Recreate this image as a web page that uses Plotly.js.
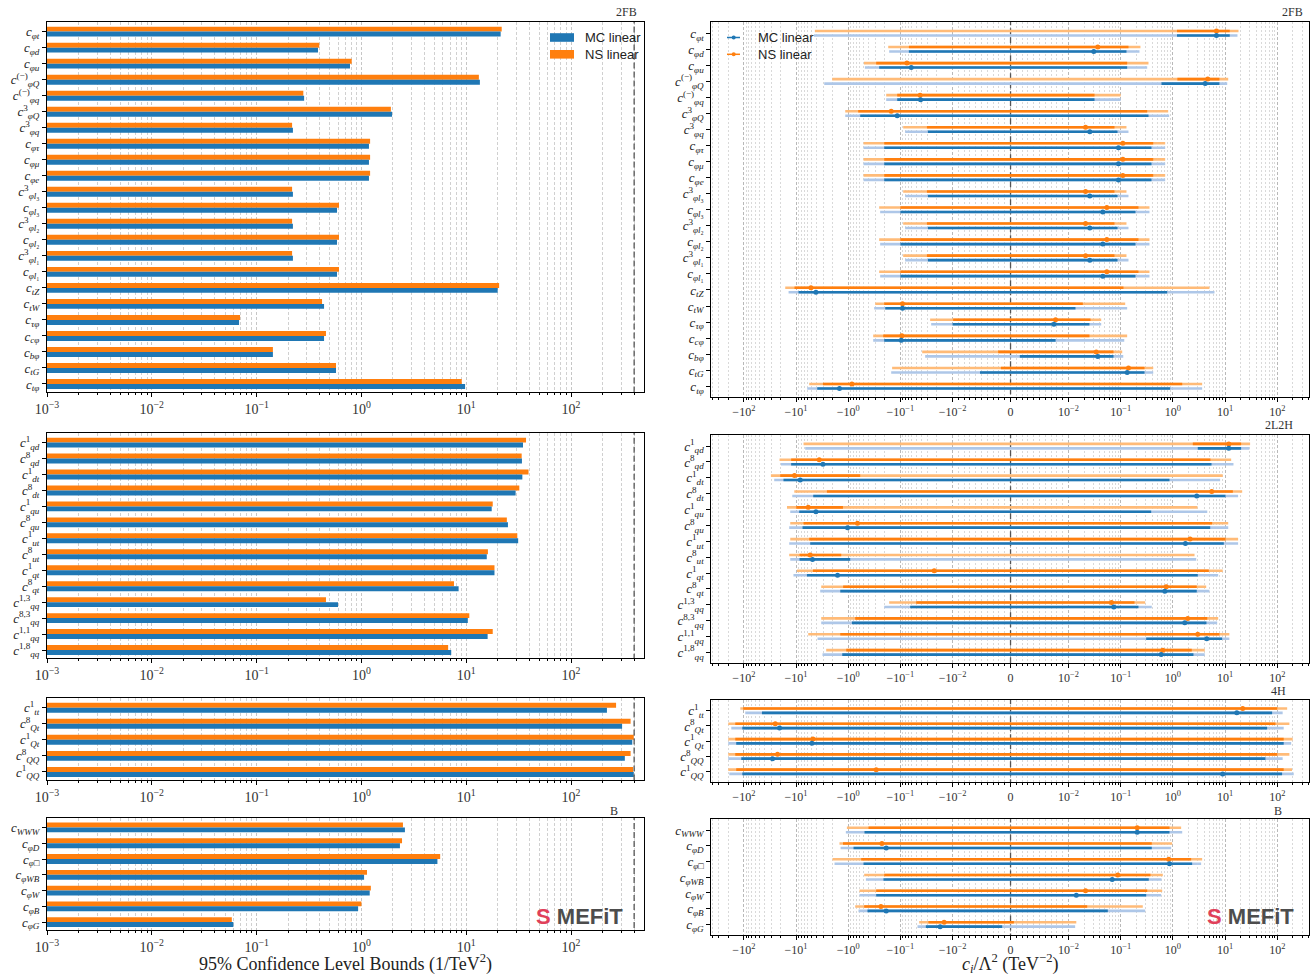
<!DOCTYPE html>
<html><head><meta charset="utf-8">
<script src="https://cdn.plot.ly/plotly-3.0.1.min.js"></script>
<style>body{margin:0;background:#fff}#plot{width:1311px;height:976px}</style>
</head><body><div id="plot"></div>
<script>
// ---------------- DATA ----------------
const series = ["MC linear", "NS linear"];

// Panel 2FB
const labels2FB = [
 "<i>c<sub>φt</sub></i>", "<i>c<sub>φd</sub></i>", "<i>c<sub>φu</sub></i>",
 "<i>c</i><sup>(−)</sup><sub><i>φQ</i></sub>", "<i>c</i><sup>(−)</sup><sub><i>φq</i></sub>",
 "<i>c</i><sup>3</sup><sub><i>φQ</i></sub>", "<i>c</i><sup>3</sup><sub><i>φq</i></sub>",
 "<i>c<sub>φτ</sub></i>", "<i>c<sub>φμ</sub></i>", "<i>c<sub>φe</sub></i>",
 "<i>c</i><sup>3</sup><sub><i>φl</i>₃</sub>", "<i>c</i><sub><i>φl</i>₃</sub>",
 "<i>c</i><sup>3</sup><sub><i>φl</i>₂</sub>", "<i>c</i><sub><i>φl</i>₂</sub>",
 "<i>c</i><sup>3</sup><sub><i>φl</i>₁</sub>", "<i>c</i><sub><i>φl</i>₁</sub>",
 "<i>c<sub>tZ</sub></i>", "<i>c<sub>tW</sub></i>", "<i>c<sub>τφ</sub></i>", "<i>c<sub>cφ</sub></i>",
 "<i>c<sub>bφ</sub></i>", "<i>c<sub>tG</sub></i>", "<i>c<sub>tφ</sub></i>"
];
// 95% CL width (left panels)
const width2FB_MC = [21.3, 0.385, 0.778, 13.5, 0.284, 1.96, 0.222, 1.18, 1.18, 1.18, 0.222, 0.585, 0.222, 0.585, 0.222, 0.585, 19.95, 0.44, 0.068, 0.44, 0.143, 0.572, 9.75];
const width2FB_NS = [21.8, 0.396, 0.808, 13.2, 0.279, 1.91, 0.218, 1.21, 1.21, 1.21, 0.218, 0.611, 0.218, 0.611, 0.218, 0.611, 20.6, 0.421, 0.0695, 0.459, 0.143, 0.572, 9.06];
// intervals: [lo95, lo68, mean, hi68, hi95]
const ci2FB_MC = [
 [-4.54, 1.2, 6.84, 12.3, 17.3], [-0.164, -0.0687, 0.0305, 0.129, 0.229], [-0.479, -0.255, -0.062, 0.133, 0.322],
 [-2.88, 0.605, 4.16, 7.8, 11.0], [-0.187, -0.115, -0.041, 0.0315, 0.1], [-1.14, -0.589, -0.115, 0.341, 0.849],
 [-0.081, -0.0297, 0.0256, 0.0869, 0.141], [-0.509, -0.204, 0.0907, 0.389, 0.712], [-0.509, -0.204, 0.0907, 0.389, 0.712],
 [-0.509, -0.204, 0.0907, 0.389, 0.712], [-0.081, -0.0297, 0.0256, 0.0869, 0.141], [-0.244, -0.1, 0.0454, 0.192, 0.356],
 [-0.081, -0.0297, 0.0256, 0.0869, 0.141], [-0.244, -0.1, 0.0454, 0.192, 0.356], [-0.081, -0.0297, 0.0256, 0.0869, 0.141],
 [-0.244, -0.1, 0.0454, 0.192, 0.356], [-13.9, -8.96, -4.16, 0.778, 6.27], [-0.318, -0.195, -0.091, 0.0136, 0.133],
 [-0.0257, -0.01, 0.00748, 0.0252, 0.0423], [-0.332, -0.204, -0.0963, 0.00777, 0.117], [-0.0335, 0.0016, 0.0364, 0.0728, 0.112],
 [-0.15, -0.00527, 0.133, 0.286, 0.42], [-6.1, -3.92, -1.47, 0.887, 3.64]
];
const ci2FB_NS = [
 [-4.36, 1.2, 6.84, 12.3, 18.1], [-0.171, -0.0687, 0.0364, 0.141, 0.239], [-0.5, -0.291, -0.075, 0.133, 0.341],
 [-2.03, 1.22, 4.66, 7.8, 11.5], [-0.187, -0.115, -0.0418, 0.0315, 0.1], [-1.14, -0.643, -0.15, 0.322, 0.813],
 [-0.0884, -0.031, 0.0212, 0.076, 0.129], [-0.509, -0.204, 0.11, 0.42, 0.712], [-0.509, -0.204, 0.11, 0.42, 0.712],
 [-0.509, -0.204, 0.11, 0.42, 0.712], [-0.0884, -0.031, 0.0212, 0.076, 0.129], [-0.255, -0.1, 0.0542, 0.219, 0.356],
 [-0.0884, -0.031, 0.0212, 0.076, 0.129], [-0.255, -0.1, 0.0542, 0.219, 0.356], [-0.0884, -0.031, 0.0212, 0.076, 0.129],
 [-0.255, -0.1, 0.0542, 0.219, 0.356], [-16.1, -10.7, -5.18, 0.113, 5.02], [-0.304, -0.204, -0.091, 0.0188, 0.122],
 [-0.0269, -0.0099, 0.00777, 0.0264, 0.0423], [-0.332, -0.213, -0.0936, 0.0252, 0.133], [-0.0382, -0.00213, 0.034, 0.0728, 0.107],
 [-0.144, -0.00166, 0.141, 0.286, 0.42], [-5.59, -3.05, -0.849, 1.51, 3.64]
];

// Panel 2L2H
const labels2L2H = [
 "<i>c</i><sup>1</sup><sub><i>qd</i></sub>", "<i>c</i><sup>8</sup><sub><i>qd</i></sub>",
 "<i>c</i><sup>1</sup><sub><i>dt</i></sub>", "<i>c</i><sup>8</sup><sub><i>dt</i></sub>",
 "<i>c</i><sup>1</sup><sub><i>qu</i></sub>", "<i>c</i><sup>8</sup><sub><i>qu</i></sub>",
 "<i>c</i><sup>1</sup><sub><i>ut</i></sub>", "<i>c</i><sup>8</sup><sub><i>ut</i></sub>",
 "<i>c</i><sup>1</sup><sub><i>qt</i></sub>", "<i>c</i><sup>8</sup><sub><i>qt</i></sub>",
 "<i>c</i><sup>1,3</sup><sub><i>qq</i></sub>", "<i>c</i><sup>8,3</sup><sub><i>qq</i></sub>",
 "<i>c</i><sup>1,1</sup><sub><i>qq</i></sub>", "<i>c</i><sup>1,8</sup><sub><i>qq</i></sub>"
];
const width2L2H_MC = [34.8, 34.0, 34.3, 29.6, 17.5, 25.0, 31.3, 15.7, 18.6, 8.46, 0.598, 10.35, 16.0, 7.19];
const width2L2H_NS = [37.2, 33.8, 39.3, 32.1, 17.9, 24.4, 30.7, 16.1, 18.6, 7.64, 0.459, 10.7, 17.9, 6.72];
const ci2L2H_MC = [
 [-6.67, 3.0, 11.8, 20.3, 29.3], [-19.5, -12.4, -3.05, 5.5, 14.5], [-26.2, -17.4, -8.3, 0.861, 8.05],
 [-11.8, -4.68, 2.87, 10.2, 17.8], [-12.9, -8.69, -4.16, 0.384, 4.56], [-13.5, -7.5, -1.03, 5.19, 11.5],
 [-13.5, -5.35, 1.74, 9.46, 17.8], [-12.9, -8.57, -4.83, -0.916, 2.8], [-11.2, -6.18, -1.6, 3.0, 7.38],
 [-3.44, -1.42, 0.701, 2.87, 5.02], [-0.204, -0.0649, 0.0738, 0.219, 0.394], [-3.29, -0.849, 1.69, 4.4, 7.06],
 [-3.87, 0.308, 4.46, 8.8, 12.1], [-3.11, -1.3, 0.596, 2.48, 4.08]
];
const ci2L2H_NS = [
 [-7.18, 2.41, 11.8, 20.3, 30.2], [-20.7, -12.4, -3.59, 5.25, 13.1], [-30.3, -20.1, -10.7, -0.589, 9.03],
 [-10.8, -2.56, 5.56, 14.1, 21.3], [-14.9, -9.9, -5.84, -1.26, 2.96], [-12.9, -7.18, -0.664, 5.66, 11.5],
 [-12.9, -5.59, 2.14, 10.2, 17.8], [-13.5, -8.57, -5.35, -1.36, 2.6], [-9.6, -4.74, -0.0225, 4.88, 9.03],
 [-3.29, -1.25, 0.745, 2.87, 4.35], [-0.164, -0.0498, 0.0667, 0.184, 0.295], [-3.29, -0.735, 1.93, 4.56, 7.38],
 [-5.84, -1.42, 3.0, 7.8, 12.1], [-2.64, -1.09, 0.64, 2.3, 4.08]
];

// Panel 4H
const labels4H = [
 "<i>c</i><sup>1</sup><sub><i>tt</i></sub>", "<i>c</i><sup>8</sup><sub><i>Qt</i></sub>",
 "<i>c</i><sup>1</sup><sub><i>Qt</i></sub>", "<i>c</i><sup>8</sup><sub><i>QQ</i></sub>",
 "<i>c</i><sup>1</sup><sub><i>QQ</i></sub>"
];
const width4H_MC = [220, 307, 384, 326, 397];
const width4H_NS = [269, 370, 397, 370, 391];
const ci4H_MC = [
 [-94, -45, 16.8, 79.8, 127], [-174, -107, -20.7, 64, 133], [-199, -140, -4.96, 133, 185],
 [-199, -112, -28.2, 59.4, 127], [-190, -107, 9.0, 124, 207]
];
const ci4H_NS = [
 [-117, -103, 21.8, 100, 155], [-199, -146, -25, 92.5, 171], [-199, -146, -4.74, 133, 198],
 [-199, -146, -22.6, 100, 171], [-199, -140, -0.291, 133, 192]
];

// Panel B
const labelsB = [
 "<i>c<sub>WWW</sub></i>", "<i>c<sub>φD</sub></i>", "<i>c</i><sub><i>φ</i>□</sub>",
 "<i>c<sub>φWB</sub></i>", "<i>c<sub>φW</sub></i>", "<i>c<sub>φB</sub></i>", "<i>c<sub>φG</sub></i>"
];
const widthB_MC = [2.6, 2.33, 5.31, 1.06, 1.2, 0.93, 0.06];
const widthB_NS = [2.49, 2.44, 5.64, 1.13, 1.23, 1.0, 0.058];
const ciB_MC = [
 [-1.11, -0.487, 0.207, 0.861, 1.51], [-1.4, -0.791, -0.187, 0.394, 0.928], [-1.83, -0.509, 0.861, 2.34, 3.48],
 [-0.458, -0.211, 0.0687, 0.345, 0.605], [-0.608, -0.291, 0.0141, 0.308, 0.596], [-0.635, -0.427, -0.187, 0.0566, 0.295],
 [-0.047, -0.0325, -0.0173, -0.00144, 0.0134]
];
const ciB_NS = [
 [-1.06, -0.408, 0.207, 0.861, 1.44], [-1.47, -1.26, -0.226, 0.394, 0.97], [-2.0, -0.564, 0.834, 2.24, 3.64],
 [-0.494, -0.204, 0.0879, 0.372, 0.641], [-0.608, -0.291, 0.0212, 0.322, 0.624], [-0.735, -0.494, -0.236, 0.0228, 0.265],
 [-0.0436, -0.029, -0.0145, 0.00057, 0.0141]
];

const panelTags = ["2FB", "2L2H", "4H", "B"];
const limitLine = 400;
const leftTicks = [1e-3, 1e-2, 1e-1, 1, 10, 100];
const leftTickText = ["10<sup>−3</sup>", "10<sup>−2</sup>", "10<sup>−1</sup>", "10<sup>0</sup>", "10<sup>1</sup>", "10<sup>2</sup>"];
const rightTicks = [-100, -10, -1, -0.1, -0.01, 0, 0.01, 0.1, 1, 10, 100];
const rightTickText = ["−10<sup>2</sup>", "−10<sup>1</sup>", "−10<sup>0</sup>", "−10<sup>−1</sup>", "−10<sup>−2</sup>", "0",
  "10<sup>−2</sup>", "10<sup>−1</sup>", "10<sup>0</sup>", "10<sup>1</sup>", "10<sup>2</sup>"];

// ---------------- STYLE / LAYOUT ----------------
const W = 1311, H = 976;
const C_MC = "#1f77b4", C_NS = "#ff7f0e", C_MC_L = "#aec7e8", C_NS_L = "#ffbb78";
const SERIF = "Liberation Serif, DejaVu Serif, serif";
const SANS = "Liberation Sans, Arial, sans-serif";
const px = x => x / W, py = y => 1 - y / H;

// symmetric log scale (matplotlib symlog, linthresh=0.01, linscale=1)
const LINTHRESH = 0.01, LINSCALE = 1 / (1 - 1 / 10);
function symlog(v) {
  if (v === null) return null;
  const a = Math.abs(v) / LINTHRESH, s = Math.sign(v);
  return a <= 1 ? s * a * LINSCALE : s * (LINSCALE + Math.log10(a));
}

const panels = [
  {labels: labels2FB, wMC: width2FB_MC, wNS: width2FB_NS, ciMC: ci2FB_MC, ciNS: ci2FB_NS, L: [22, 392], R: [22, 397]},
  {labels: labels2L2H, wMC: width2L2H_MC, wNS: width2L2H_NS, ciMC: ci2L2H_MC, ciNS: ci2L2H_NS, L: [433, 658], R: [435, 663]},
  {labels: labels4H, wMC: width4H_MC, wNS: width4H_NS, ciMC: ci4H_MC, ciNS: ci4H_NS, L: [698, 780], R: [700, 782]},
  {labels: labelsB, wMC: widthB_MC, wNS: widthB_NS, ciMC: ciB_MC, ciNS: ciB_NS, L: [818, 930], R: [819, 935]}
];

const leftMinor = [];
for (let k = -3; k <= 2; k++) for (let m = 2; m <= 9; m++) { const v = m * Math.pow(10, k); if (v < 500) leftMinor.push(v); }
const rightMinorVals = [];
for (let k = -2; k <= 2; k++) for (let m = 2; m <= 9; m++) { const v = m * Math.pow(10, k); if (v <= 400) { rightMinorVals.push(v); rightMinorVals.push(-v); } }
for (let m = 1; m <= 9; m++) { rightMinorVals.push(m * 1e-3); rightMinorVals.push(-m * 1e-3); }
const rightMinor = rightMinorVals.map(symlog);

const traces = [];
const layout = {
  width: W, height: H, margin: {l: 0, r: 0, t: 0, b: 0},
  paper_bgcolor: "#fff", plot_bgcolor: "#fff", showlegend: false,
  barmode: "group", bargap: 0.38, bargroupgap: 0,
  shapes: [], annotations: []
};

panels.forEach((p, i) => {
  const nL = 2 * i + 1, nR = 2 * i + 2;
  const xl = "x" + nL, yl = "y" + nL, xr = "x" + nR, yr = "y" + nR;
  const N = p.labels.length;
  const idx = p.labels.map((_, j) => j);

  // left: bars of 95% CL width
  traces.push({type: "bar", orientation: "h", name: series[1], x: p.wNS, y: idx, xaxis: xl, yaxis: yl,
    marker: {color: C_NS, line: {width: 0}}, hoverinfo: "x"});
  traces.push({type: "bar", orientation: "h", name: series[0], x: p.wMC, y: idx, xaxis: xl, yaxis: yl,
    marker: {color: C_MC, line: {width: 0}}, hoverinfo: "x"});
  traces.push({type: "scatter", mode: "lines", x: [limitLine, limitLine], y: [-2, N + 2], xaxis: xl, yaxis: yl,
    line: {color: "#555", width: 1.3, dash: "6px,3px"}, hoverinfo: "skip"});

  // right: intervals
  traces.push({type: "scatter", mode: "lines", x: [0, 0], y: [-2, N + 2], xaxis: xr, yaxis: yr,
    line: {color: "#555", width: 1.3, dash: "6px,3px"}, hoverinfo: "skip"});
  const ser = [[p.ciNS, -0.14, C_NS, C_NS_L], [p.ciMC, 0.14, C_MC, C_MC_L]];
  ser.forEach(([ci, off, cD, cL]) => {
    const xs95 = [], xs68 = [], ys = [], xm = [], ym = [];
    ci.forEach((r, j) => {
      xs95.push(symlog(r[0]), symlog(r[4]), null);
      xs68.push(symlog(r[1]), symlog(r[3]), null);
      ys.push(j + off, j + off, null);
      xm.push(symlog(r[2])); ym.push(j + off);
    });
    traces.push({type: "scatter", mode: "lines", x: xs95, y: ys, xaxis: xr, yaxis: yr, line: {color: cL, width: 2.6}, hoverinfo: "skip"});
    traces.push({type: "scatter", mode: "lines", x: xs68, y: ys, xaxis: xr, yaxis: yr, line: {color: cD, width: 2.6}, hoverinfo: "skip"});
    traces.push({type: "scatter", mode: "markers", x: xm, y: ym, xaxis: xr, yaxis: yr, marker: {color: cD, size: 5, symbol: "circle"}, hoverinfo: "skip"});
  });

  const frame = {showline: true, mirror: true, linecolor: "#000", linewidth: 1, zeroline: false};
  const yFont = {family: SERIF, size: 13, color: "#222"};
  layout["xaxis" + nL] = Object.assign({}, frame, {
    type: "log", range: [-3, Math.log10(500)], domain: [px(47), px(644.3)], anchor: yl,
    tickvals: leftTicks, ticktext: leftTickText, ticks: "outside", ticklen: 4, tickcolor: "#000",
    tickfont: {family: SERIF, size: 14, color: "#333"},
    showgrid: true, gridcolor: "#b8b8b8", gridwidth: 0.8, griddash: "3px,2px",
    minor: {tickvals: leftMinor, ticks: "outside", ticklen: 2, tickcolor: "#000", showgrid: true, gridcolor: "#c4c4c4", gridwidth: 0.8, griddash: "3px,2px"}
  });
  layout["yaxis" + nL] = Object.assign({}, frame, {
    range: [N - 0.5, -0.6], domain: [py(p.L[1]), py(p.L[0])], anchor: xl,
    tickvals: idx, ticktext: p.labels, ticks: "outside", ticklen: 4, tickcolor: "#000",
    tickfont: yFont, showgrid: false
  });
  layout["xaxis" + nR] = Object.assign({}, frame, {
    range: [-5.735, 5.72], domain: [px(711.3), px(1309)], anchor: yr,
    tickvals: rightTicks.map(symlog), ticktext: rightTickText, ticks: "outside", ticklen: 4, tickcolor: "#000",
    tickfont: {family: SERIF, size: 12, color: "#333"},
    showgrid: true, gridcolor: "#a8a8a8", gridwidth: 0.8, griddash: "3px,2px",
    minor: {tickvals: rightMinor, ticks: "outside", ticklen: 2, tickcolor: "#000", showgrid: true, gridcolor: "#cfcfcf", gridwidth: 0.8, griddash: "2px,2px"}
  });
  layout["yaxis" + nR] = Object.assign({}, frame, {
    range: [N - 1 + 0.67, -0.7], domain: [py(p.R[1]), py(p.R[0])], anchor: xr,
    tickvals: idx, ticktext: p.labels, ticks: "outside", ticklen: 4, tickcolor: "#000",
    tickfont: yFont, showgrid: false
  });
});

// panel tags
const tagFont = {family: SERIF, size: 12, color: "#333"};
const tags = [[panelTags[0], 626, 12], [panelTags[0], 1292, 12], [panelTags[1], 1279, 425], [panelTags[2], 1278, 691], [panelTags[3], 614, 811], [panelTags[3], 1278, 811]];
tags.forEach(([t, x, y]) => layout.annotations.push({text: t, xref: "paper", yref: "paper", x: px(x), y: py(y), showarrow: false, font: tagFont, xanchor: "center", yanchor: "middle"}));

// axis titles
layout.annotations.push({text: "95% Confidence Level Bounds (1/TeV<sup>2</sup>)", xref: "paper", yref: "paper", x: px(345), y: py(963),
  showarrow: false, font: {family: SERIF, size: 18, color: "#222"}, xanchor: "center", yanchor: "middle"});
layout.annotations.push({text: "<i>c<sub>i</sub></i>/Λ<sup>2</sup> (TeV<sup>−2</sup>)", xref: "paper", yref: "paper", x: px(1010), y: py(963),
  showarrow: false, font: {family: SERIF, size: 18, color: "#222"}, xanchor: "center", yanchor: "middle"});

// legends
const legY = [37.5, 54.3];
const legCols = [C_MC, C_NS];
legY.forEach((y, k) => {
  layout.shapes.push({type: "rect", xref: "paper", yref: "paper", x0: px(550), x1: px(574), y0: py(y - 4.3), y1: py(y + 4.3), fillcolor: legCols[k], line: {width: 0}});
  layout.annotations.push({text: series[k], xref: "paper", yref: "paper", x: px(583), y: py(y), showarrow: false, xanchor: "left", yanchor: "middle", font: {family: SANS, size: 13, color: "#222"}});
  layout.shapes.push({type: "line", xref: "paper", yref: "paper", x0: px(727), x1: px(740), y0: py(y), y1: py(y), line: {color: legCols[k], width: 1.5}});
  layout.shapes.push({type: "circle", xref: "paper", yref: "paper", x0: px(731.7), x1: px(735.7), y0: py(y - 2), y1: py(y + 2), fillcolor: legCols[k], line: {width: 0}});
  layout.annotations.push({text: series[k], xref: "paper", yref: "paper", x: px(756), y: py(y), showarrow: false, xanchor: "left", yanchor: "middle", font: {family: SANS, size: 13, color: "#222"}});
});

// logos
[[579, 916], [1250, 916]].forEach(([x, y]) => {
  layout.annotations.push({text: "<b><span style='color:#e0405a'>S</span> <span style='color:#4d4d4d'>MEFiT</span></b>", xref: "paper", yref: "paper",
    x: px(x), y: py(y), showarrow: false, xanchor: "center", yanchor: "middle", font: {family: SANS, size: 22}});
});

Plotly.newPlot("plot", traces, layout, {staticPlot: true});
</script>
</body></html>
